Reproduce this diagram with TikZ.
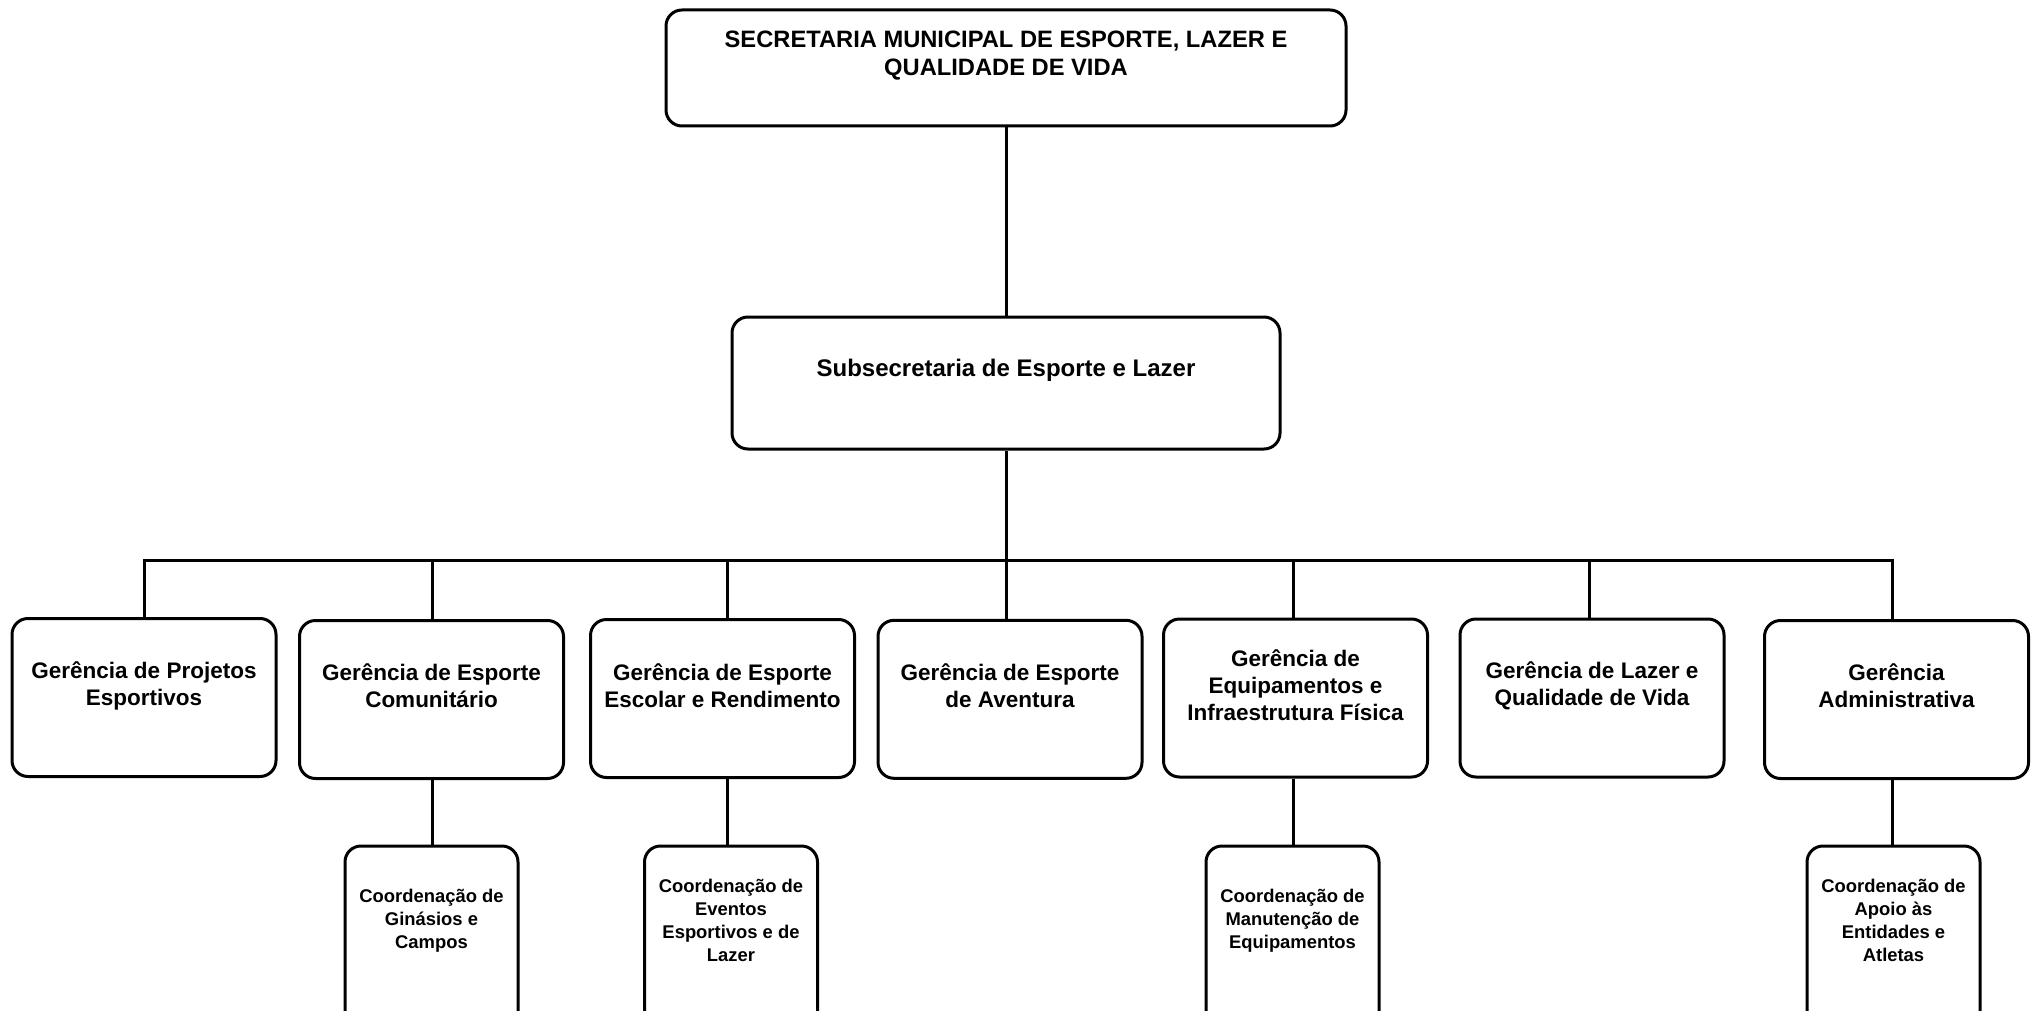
\documentclass[tikz,border=0pt]{standalone}
\usepackage{fontspec}
\setmainfont{Liberation Sans}
\begin{document}
\begin{tikzpicture}[x=1pt,y=-1pt,
  box/.style={draw, line width=3pt, rounded corners=16pt, inner sep=0pt, line join=round},
  gbox/.style={box, minimum width=264pt, minimum height=158pt},
  cbox/.style={box, minimum width=173pt, minimum height=194pt},
  toptxt/.style={align=center, inner sep=0pt, font=\bfseries\fontsize{23.7}{28.8}\selectfont},
  subtxt/.style={align=center, inner sep=0pt, font=\bfseries\fontsize{24}{28.8}\selectfont},
  gtxt/.style={align=center, inner sep=0pt, font=\bfseries\fontsize{22.5}{27}\selectfont},
  ctxt/.style={align=center, inner sep=0pt, font=\bfseries\fontsize{18.4}{23}\selectfont},
  link/.style={line width=3pt}]
\useasboundingbox[fill=white] (0,0) rectangle (2031,1011);
\clip (0,0) rectangle (2031,1011);

% top levels
\node[box, minimum width=680pt, minimum height=116pt] (top) at (1006,68) {};
\node[toptxt] (topt) at (1006,55.5) {SECRETARIA MUNICIPAL DE ESPORTE, LAZER E\\QUALIDADE DE VIDA};
\node[box, minimum width=548pt, minimum height=132pt] (sub) at (1006,383) {};
\node[subtxt] (subt) at (1006,370) {Subsecretaria de Esporte e Lazer};

% gerencias
\node[gbox] (g1) at (144,697.5) {};
\node[gbox] (g2) at (431.5,699.5) {};
\node[gbox] (g3) at (722.5,698.5) {};
\node[gbox] (g4) at (1010,699.3) {};
\node[gbox] (g5) at (1295.5,698) {};
\node[gbox] (g6) at (1592,698) {};
\node[gbox] (g7) at (1896.5,699.5) {};
\node[gtxt] (g1t) at (144,685.5) {Gerência de Projetos\\Esportivos};
\node[gtxt] (g2t) at (431.5,686) {Gerência de Esporte\\Comunitário};
\node[gtxt] (g3t) at (722.5,686) {Gerência de Esporte\\Escolar e Rendimento};
\node[gtxt] (g4t) at (1010,686) {Gerência de Esporte\\de Aventura};
\node[gtxt] (g5t) at (1295.5,685) {Gerência de\\Equipamentos e\\Infraestrutura Física};
\node[gtxt] (g6t) at (1592,685.5) {Gerência de Lazer e\\Qualidade de Vida};
\node[gtxt] (g7t) at (1896.5,686) {Gerência\\Administrativa};

% coordenacoes
\node[cbox] (c1) at (431.5,943) {};
\node[cbox] (c2) at (731,943) {};
\node[cbox] (c3) at (1292.5,943) {};
\node[cbox] (c4) at (1893.5,943) {};
\node[ctxt] (c1t) at (431.5,921) {Coordenação de\\Ginásios e\\Campos};
\node[ctxt] (c2t) at (731,920) {Coordenação de\\Eventos\\Esportivos e de\\Lazer};
\node[ctxt] (c3t) at (1292.5,921) {Coordenação de\\Manutenção de\\Equipamentos};
\node[ctxt] (c4t) at (1893.5,920) {Coordenação de\\Apoio às\\Entidades e\\Atletas};

% bus coordinates
\coordinate (b1) at (144,560);
\coordinate (b2) at (432,560);
\coordinate (b3) at (727,560);
\coordinate (b4) at (1006,560);
\coordinate (b5) at (1293,560);
\coordinate (b6) at (1589,560);
\coordinate (b7) at (1892,560);

% connectors
\draw[link] (top.south) -- (sub.north);
\draw[link] (sub.south) -- (b4);
\draw[link, line cap=rect] (b1) -- (b7);
\foreach \i in {1,...,7} {
  \draw[link] (b\i) -- (b\i |- g\i.north);
}
\draw[link] (g2.south -| b2) -- (b2 |- c1.north);
\draw[link] (g3.south -| b3) -- (b3 |- c2.north);
\draw[link] (g5.south -| b5) -- (b5 |- c3.north);
\draw[link] (g7.south -| b7) -- (b7 |- c4.north);
\end{tikzpicture}
\end{document}
